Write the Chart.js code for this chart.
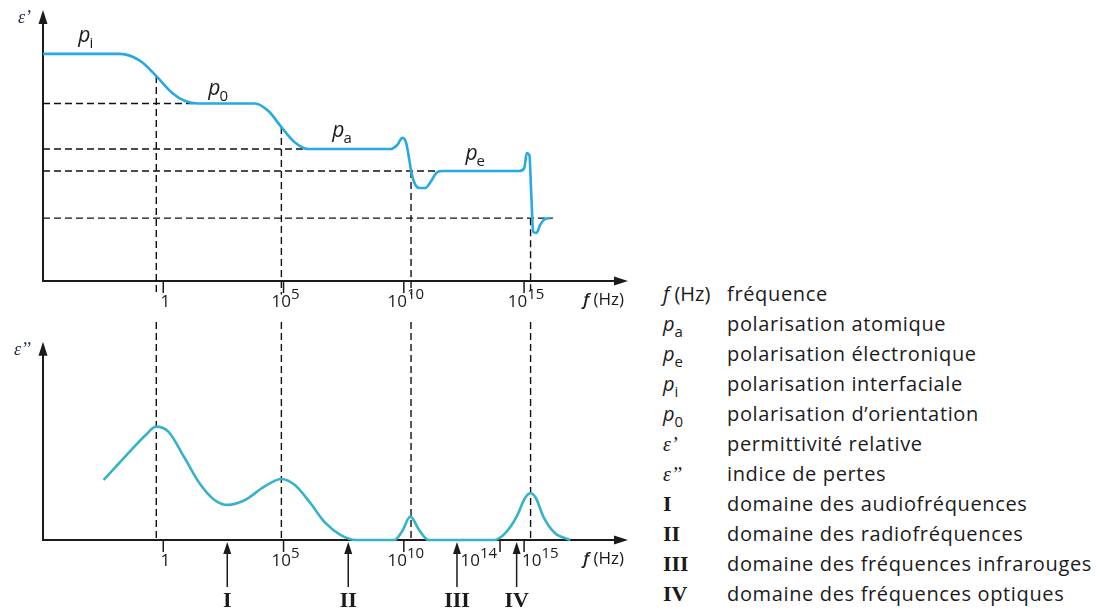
<!DOCTYPE html>
<html lang="fr">
<head>
<meta charset="utf-8">
<title>Permittivité relative et indice de pertes en fonction de la fréquence</title>
<script src="https://cdn.jsdelivr.net/npm/chart.js@4.4.1/dist/chart.umd.min.js"></script>
<style>
  html, body { margin: 0; padding: 0; background: #fff; }
  body { width: 1100px; height: 613px; position: relative; overflow: hidden;
         font-family: "Open Sans", "Liberation Sans", sans-serif; color: #1c1a1b; }
  #permChart { position: absolute; left: 0; top: 0; }
  #lossChart { position: absolute; left: 0; top: 320px; }
  #legend { position: absolute; left: 663px; top: 279px; width: 437px; height: 334px; }
  .row { position: absolute; left: 0; height: 30px; line-height: 30px; white-space: nowrap;
         font-size: 20px; letter-spacing: 0.65px; }
  .sym { position: absolute; left: 0; top: 0; letter-spacing: 0; }
  .txt { position: absolute; left: 64px; top: 0; }
  .sym i { font-style: italic; }
  .sym sub { font-size: 15px; vertical-align: -6px; line-height: 0; }
  .serif { font-family: "Liberation Serif", "DejaVu Serif", serif; font-style: italic; font-size: 20px; }
  .roman { font-family: "Liberation Serif", "DejaVu Serif", serif; font-size: 22px; font-weight: bold; }
</style>
</head>
<body>
<canvas id="permChart" width="640" height="320"></canvas>
<canvas id="lossChart" width="640" height="293"></canvas>

<div id="legend">
  <div class="row" style="top:0px"><span class="sym"><i>f</i> (Hz)</span><span class="txt">fréquence</span></div>
  <div class="row" style="top:30px"><span class="sym"><i>p</i><sub>a</sub></span><span class="txt">polarisation atomique</span></div>
  <div class="row" style="top:60px"><span class="sym"><i>p</i><sub>e</sub></span><span class="txt">polarisation électronique</span></div>
  <div class="row" style="top:90px"><span class="sym"><i>p</i><sub>i</sub></span><span class="txt">polarisation interfaciale</span></div>
  <div class="row" style="top:120px"><span class="sym"><i>p</i><sub>0</sub></span><span class="txt">polarisation d’orientation</span></div>
  <div class="row" style="top:150px"><span class="sym serif">ε’</span><span class="txt">permittivité relative</span></div>
  <div class="row" style="top:180px"><span class="sym serif">ε’’</span><span class="txt">indice de pertes</span></div>
  <div class="row" style="top:210px"><span class="sym roman">I</span><span class="txt">domaine des audiofréquences</span></div>
  <div class="row" style="top:240px"><span class="sym roman">II</span><span class="txt">domaine des radiofréquences</span></div>
  <div class="row" style="top:270px"><span class="sym roman">III</span><span class="txt">domaine des fréquences infrarouges</span></div>
  <div class="row" style="top:300px"><span class="sym roman">IV</span><span class="txt">domaine des fréquences optiques</span></div>
</div>

<script>
// ---- Data (frequency given as log10 f, f in Hz) ----

// Relative permittivity ε′
const permLogF = [-5, -1.79, -0.96, -0.29, 0.37, 0.91, 1.45, 3.82, 4.37, 4.91, 5.45, 6.03,
  9.44, 9.73, 9.94, 10.10, 10.23, 10.31, 10.44, 10.64, 10.89, 11.14, 11.39, 11.64,
  14.80, 15.01, 15.11, 15.22, 15.30, 15.38, 15.51, 15.67, 15.88, 16.09];
const permValues = [8.38, 8.38, 8.12, 7.56, 6.94, 6.64, 6.55, 6.55, 6.27, 5.68, 5.13, 4.87,
  4.87, 5.02, 5.28, 5.09, 4.46, 4.02, 3.62, 3.43, 3.43, 3.69, 4.02, 4.06,
  4.06, 4.17, 4.72, 4.65, 3.17, 1.81, 1.77, 2.07, 2.29, 2.32];

// Loss index ε″
const lossLogF = [-2.48, -1.52, -0.73, -0.30, 0.22, 0.86, 1.50, 2.13, 2.69, 3.40, 4.20, 4.91,
  5.47, 6.11, 6.74, 7.38, 8.01, 9.61, 9.92, 10.27, 10.64, 11.03, 13.74, 14.22, 14.69,
  15.04, 15.26, 15.49, 15.80, 16.28, 16.92];
const lossValues = [3.03, 4.29, 5.30, 5.72, 5.46, 4.20, 2.88, 2.02, 1.77, 2.02, 2.69, 3.08,
  2.77, 1.87, 0.86, 0.25, 0, 0, 0.42, 1.18, 0.50, 0, 0, 0.35, 1.18,
  2.12, 2.36, 2.12, 1.18, 0.35, 0];

// Plateau levels of ε′ (dashed guides) and where each guide stops
const plateauValues = [6.55, 4.87, 4.06, 2.32];
const plateauEndLogF = [1.35, 6.0, 11.45, 16.2];

// Relaxation / resonance frequencies (dashed verticals) and ε′ where each starts
const resonanceLogF = [-0.29, 4.91, 10.3, 15.27];
const resonanceStartValues = [7.56, 5.68, 4.06, 2.32];

// Axis ticks (exponents of 10)
const permTickExps = [0, 5, 10, 15];
const lossTickExps = [0, 5, 10, 14, 15];
const lossTickAlign = ['center', 'center', 'center', 'right', 'left'];

// Polarisation labels on the ε′ curve, anchored in data units
const polSubs = ['i', '0', 'a', 'e'];
const polLogF = [-3.53, 1.87, 7.03, 12.56];
const polValues = [8.82, 6.86, 5.31, 4.46];

// Frequency domains marked under the ε″ axis
const domainNames = ['I', 'II', 'III', 'IV'];
const domainLogF = [2.66, 7.69, 12.21, 14.69];

// ---- Drawing ----
const X_MIN = -5, X_MAX = 19.32;
const INK = '#1c1a1b';
const SANS = '"Open Sans", "Liberation Sans", sans-serif';
const SERIF = '"Liberation Serif", "DejaVu Serif", serif';

function arrowHead(ctx, x, y, dir, len, half) {
  ctx.beginPath();
  if (dir === 'up') {
    ctx.moveTo(x, y); ctx.lineTo(x - half, y + len); ctx.lineTo(x + half, y + len);
  } else {
    ctx.moveTo(x, y); ctx.lineTo(x - len, y - half); ctx.lineTo(x - len, y + half);
  }
  ctx.closePath();
  ctx.fill();
}

function powerLabel(ctx, exp, px, baseline, align) {
  ctx.textAlign = 'left';
  ctx.textBaseline = 'alphabetic';
  const baseFont = '17px ' + SANS, supFont = '15px ' + SANS;
  if (exp === 0) {
    ctx.font = baseFont;
    const w = ctx.measureText('1').width;
    ctx.fillText('1', px + 2 - w / 2, baseline);
    return;
  }
  ctx.font = baseFont;
  const wb = ctx.measureText('10').width;
  ctx.font = supFont;
  const ws = ctx.measureText(String(exp)).width;
  const total = wb + ws;
  let left = px + 2 - total / 2;
  if (align === 'right') left = px - 3 - total;
  if (align === 'left') left = px - 2;
  ctx.font = baseFont;
  ctx.fillText('10', left, baseline);
  ctx.font = supFont;
  ctx.fillText(String(exp), left + wb, baseline - 8);
}

function unitLabel(ctx, right, baseline) {
  ctx.textBaseline = 'alphabetic';
  ctx.textAlign = 'left';
  ctx.font = '17px ' + SANS;
  const wHz = ctx.measureText(' (Hz)').width;
  ctx.font = 'italic 600 17px ' + SANS;
  const wf = ctx.measureText('f').width;
  ctx.fillText('f', right - wHz - wf, baseline);
  ctx.font = '17px ' + SANS;
  ctx.fillText(' (Hz)', right - wHz, baseline);
}

function makeDeco(cfg) {
  return {
    id: 'deco',
    beforeDatasetsDraw(chart) {
      const { ctx, scales: { x, y } } = chart;
      const x0 = x.getPixelForValue(X_MIN);
      const xEnd = x.getPixelForValue(X_MAX);
      const y0 = y.getPixelForValue(0);
      const yTip = y.getPixelForValue(cfg.arrowTop);
      ctx.save();
      ctx.strokeStyle = INK;
      ctx.fillStyle = INK;
      ctx.lineWidth = 2;
      ctx.beginPath();
      ctx.moveTo(x0, yTip + 10);
      ctx.lineTo(x0, y0);
      ctx.lineTo(xEnd - 10, y0);
      ctx.stroke();
      arrowHead(ctx, x0, yTip, 'up', 14, 4.5);
      arrowHead(ctx, xEnd, y0, 'right', 14, 4.5);
      // tick marks below the frequency axis
      ctx.lineWidth = 1.5;
      cfg.ticks.forEach(e => {
        const px = x.getPixelForValue(e);
        ctx.beginPath();
        ctx.moveTo(px, y0);
        ctx.lineTo(px, y0 + 12);
        ctx.stroke();
      });
      ctx.restore();
    },
    afterDraw(chart) {
      const { ctx, scales: { x, y } } = chart;
      const x0 = x.getPixelForValue(X_MIN);
      const xEnd = x.getPixelForValue(X_MAX);
      const y0 = y.getPixelForValue(0);
      const yTip = y.getPixelForValue(cfg.arrowTop);
      ctx.save();
      ctx.fillStyle = INK;
      cfg.ticks.forEach((e, i) => {
        powerLabel(ctx, e, x.getPixelForValue(e), y0 + 26, cfg.align ? cfg.align[i] : 'center');
      });
      unitLabel(ctx, xEnd - 4, y0 + 24);
      // vertical axis title
      ctx.fillStyle = '#1f2a4a';
      ctx.font = 'italic 18px ' + SERIF;
      ctx.textAlign = 'right';
      ctx.textBaseline = 'alphabetic';
      ctx.fillText(cfg.yTitle, x0 - 12, yTip + 13);
      ctx.fillStyle = INK;
      if (cfg.labels) {
        cfg.labels.subs.forEach((s, i) => {
          const px = x.getPixelForValue(cfg.labels.logF[i]);
          const py = y.getPixelForValue(cfg.labels.values[i]);
          ctx.textAlign = 'left';
          ctx.font = 'italic 21px ' + SANS;
          ctx.fillText('p', px, py);
          const wp = ctx.measureText('p').width;
          ctx.font = '15px ' + SANS;
          ctx.fillText(s, px + wp - 1, py + 6);
        });
      }
      if (cfg.domains) {
        ctx.strokeStyle = INK;
        ctx.lineWidth = 1.5;
        cfg.domains.names.forEach((name, i) => {
          const px = x.getPixelForValue(cfg.domains.logF[i]);
          ctx.beginPath();
          ctx.moveTo(px, y0 + 12);
          ctx.lineTo(px, y0 + 47);
          ctx.stroke();
          arrowHead(ctx, px, y0 + 2, 'up', 12, 4);
          ctx.font = 'bold 22px ' + SERIF;
          ctx.textAlign = 'center';
          ctx.fillText(name, px, y0 + 67);
        });
      }
      ctx.restore();
    }
  };
}

function points(xs, ys) {
  return xs.map((v, i) => ({ x: v, y: ys[i] }));
}

function dashed(pts) {
  return {
    data: pts, borderColor: '#111', borderWidth: 1.4, borderDash: [7, 4],
    pointRadius: 0, fill: false, clip: false
  };
}

function buildChart(id, datasets, yMax, padding, deco) {
  return new Chart(document.getElementById(id), {
    type: 'line',
    data: { datasets },
    options: {
      responsive: false,
      animation: false,
      events: [],
      layout: { padding },
      scales: {
        x: { type: 'linear', min: X_MIN, max: X_MAX, display: false },
        y: { type: 'linear', min: 0, max: yMax, display: false }
      },
      plugins: { legend: { display: false }, tooltip: { enabled: false } },
      elements: { point: { radius: 0 } }
    },
    plugins: [deco]
  });
}

// ε′ panel
const permSets = [{
  data: points(permLogF, permValues), borderColor: '#27a9e1', borderWidth: 2.6,
  cubicInterpolationMode: 'monotone', fill: false, clip: false
}];
plateauValues.forEach((v, i) => permSets.push(dashed([{ x: X_MIN, y: v }, { x: plateauEndLogF[i], y: v }])));
resonanceLogF.forEach((f, i) => permSets.push(dashed([{ x: f, y: resonanceStartValues[i] }, { x: f, y: -0.5 }])));

buildChart('permChart', permSets, 10, { left: 43, right: 12, top: 10, bottom: 39 }, makeDeco({
  arrowTop: 10, ticks: permTickExps, yTitle: 'ε’',
  labels: { subs: polSubs, logF: polLogF, values: polValues }
}));

// ε″ panel
const lossSets = [{
  data: points(lossLogF, lossValues), borderColor: '#36b3c8', borderWidth: 2.6,
  cubicInterpolationMode: 'monotone', fill: false, clip: false
}];
resonanceLogF.forEach(f => lossSets.push(dashed([{ x: f, y: 11 }, { x: f, y: 0 }])));

buildChart('lossChart', lossSets, 11, { left: 43, right: 12, top: 2, bottom: 73 }, makeDeco({
  arrowTop: 10, ticks: lossTickExps, align: lossTickAlign, yTitle: 'ε’’',
  domains: { names: domainNames, logF: domainLogF }
}));
</script>
</body>
</html>
